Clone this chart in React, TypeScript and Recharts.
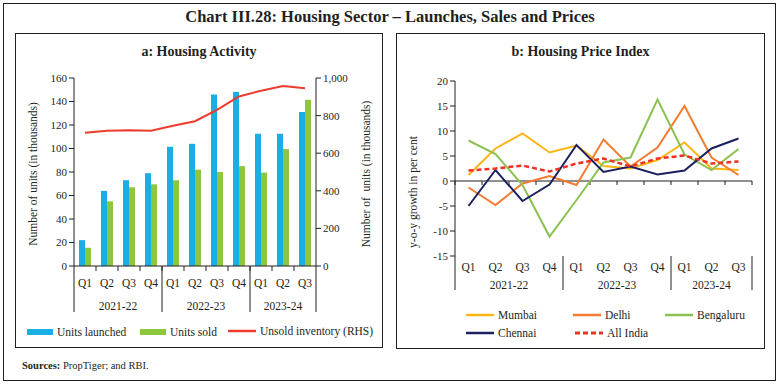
import { ComposedChart, LineChart, Bar, Line, XAxis, YAxis, ReferenceLine } from 'recharts';

const quarters = ['Q1', 'Q2', 'Q3', 'Q4', 'Q1', 'Q2', 'Q3', 'Q4', 'Q1', 'Q2', 'Q3'];
const fiscalYears = ['2021-22', '2021-22', '2021-22', '2021-22', '2022-23', '2022-23', '2022-23', '2022-23', '2023-24', '2023-24', '2023-24'];

// panel a (thousand units)
const unitsLaunched = [22, 64, 73, 79, 101.5, 104, 146, 148, 112.5, 112.5, 131];
const unitsSold = [15.5, 55, 67, 69.5, 73, 82, 80, 85, 79.5, 99.5, 141.5];
const unsoldInventory = [709, 720, 722, 720, 746, 770, 830, 902, 932, 957, 946];

// panel b (y-o-y, per cent)
const mumbai = [1.2, 6.5, 9.5, 5.7, 7.1, 3.0, 2.5, 4.2, 7.7, 2.5, 2.2];
const delhi = [-1.3, -4.8, -0.5, 1.0, -0.8, 8.3, 2.9, 6.7, 15.0, 4.7, 1.2];
const bengaluru = [8.1, 5.4, -0.8, -11.1, -3.8, 3.7, 4.7, 16.3, 5.3, 2.2, 6.4];
const chennai = [-5.0, 2.2, -4.0, -0.7, 7.2, 1.8, 2.9, 1.3, 2.1, 6.5, 8.5];
const allIndia = [2.1, 2.5, 3.1, 1.9, 3.5, 4.5, 2.9, 4.5, 5.1, 3.5, 3.9];

const leftTicks = [0, 20, 40, 60, 80, 100, 120, 140, 160];
const rightTicks = [0, 200, 400, 600, 800, 1000];
const priceTicks = [-15, -10, -5, 0, 5, 10, 15, 20];

const activityData = quarters.map((q, i) => ({
  key: fiscalYears[i] + ' ' + q,
  launched: unitsLaunched[i],
  sold: unitsSold[i],
  unsold: unsoldInventory[i],
}));

const priceData = quarters.map((q, i) => ({
  key: fiscalYears[i] + ' ' + q,
  mumbai: mumbai[i],
  delhi: delhi[i],
  bengaluru: bengaluru[i],
  chennai: chennai[i],
  allIndia: allIndia[i],
}));

const FONT = '"Liberation Serif", "DejaVu Serif", serif';
const INK = '#231f20';
const N = quarters.length;

const LEFT_PLOT_W = 242;
const RIGHT_PLOT_W = 297;

function makeQuarterTick(band: number, smallTicks: boolean, labelDy: number) {
  return (props: any) => {
    const { x, y, index } = props;
    return (
      <g>
        {smallTicks && index > 0 && (
          <line x1={x - band / 2} x2={x - band / 2} y1={y} y2={y + 5} stroke={INK} />
        )}
        <text x={x} y={y + labelDy} textAnchor="middle" fontSize={11.5} fontFamily={FONT} fill={INK}>
          {quarters[index]}
        </text>
      </g>
    );
  };
}

function makeYearTick(band: number, up: number, down: number, labelDy: number) {
  return (props: any) => {
    const { x, y, index } = props;
    const half = band / 2;
    const first = index === 0 || fiscalYears[index] !== fiscalYears[index - 1];
    const count = fiscalYears.filter((f) => f === fiscalYears[index]).length;
    return (
      <g>
        {first && (
          <>
            <line x1={x - half} x2={x - half} y1={y - up} y2={y + down} stroke={INK} />
            <text x={x - half + (count * band) / 2} y={y + labelDy} textAnchor="middle" fontSize={11.5} fontFamily={FONT} fill={INK}>
              {fiscalYears[index]}
            </text>
          </>
        )}
        {index === N - 1 && <line x1={x + half} x2={x + half} y1={y - up} y2={y + down} stroke={INK} />}
      </g>
    );
  };
}

const ZeroLine = (props: any) => {
  const { x1, x2, y1 } = props;
  const step = (x2 - x1) / N;
  return (
    <g>
      <line x1={x1} x2={x2} y1={y1} y2={y1} stroke={INK} strokeWidth={1} />
      {Array.from({ length: N + 1 }, (_, k) => (
        <line key={k} x1={x1 + k * step} x2={x1 + k * step} y1={y1} y2={y1 + 4} stroke={INK} />
      ))}
    </g>
  );
};

const tickStyle = { fontSize: 11, fontFamily: FONT, fill: INK };

function VLabel({ text, cx, cy }: { text: string; cx: number; cy: number }) {
  return (
    <div
      style={{
        position: 'absolute',
        left: cx,
        top: cy,
        transform: 'translate(-50%, -50%) rotate(-90deg)',
        whiteSpace: 'pre',
        fontSize: 11.5,
        fontFamily: FONT,
        color: INK,
      }}
    >
      {text}
    </div>
  );
}

function LegendItem({ x, y, label, swatch }: { x: number; y: number; label: string; swatch: any }) {
  return (
    <div style={{ position: 'absolute', left: x, top: y - 8, height: 16, display: 'flex', alignItems: 'center', whiteSpace: 'nowrap' }}>
      {swatch}
      <span style={{ fontSize: 11.5, fontFamily: FONT, color: INK, marginLeft: 4 }}>{label}</span>
    </div>
  );
}

const rectSwatch = (color: string) => <div style={{ width: 26, height: 6, background: color }} />;
const lineSwatch = (color: string, dashed = false) => (
  <svg width={28} height={6}>
    <line x1={0} x2={28} y1={3} y2={3} stroke={color} strokeWidth={dashed ? 3 : 2.5} strokeDasharray={dashed ? '5 3' : undefined} />
  </svg>
);

export default function App() {
  return (
    <div style={{ position: 'absolute', left: 0, top: 0, width: 780, height: 384, background: '#fff', fontFamily: FONT, color: INK }}>
      <div style={{ position: 'absolute', left: 3, top: 3, width: 771, height: 376, border: `1px solid ${INK}` }} />
      <div style={{ position: 'absolute', left: 0, top: 7, width: 780, textAlign: 'center', fontSize: 16.5, fontWeight: 'bold' }}>
        Chart III.28: Housing Sector – Launches, Sales and Prices
      </div>

      {/* panel a */}
      <div style={{ position: 'absolute', left: 15, top: 33, width: 366, height: 313, border: `1px solid ${INK}` }} />
      <div style={{ position: 'absolute', left: 15, top: 44, width: 368, textAlign: 'center', fontSize: 14, fontWeight: 'bold' }}>
        a: Housing Activity
      </div>
      <div style={{ position: 'absolute', left: 15, top: 33 }}>
        <ComposedChart width={368} height={314} data={activityData} margin={{ top: 45, right: 27, left: 19, bottom: 35 }} barGap={0}>
          <XAxis dataKey="key" height={28} interval={0} tickSize={0} tickMargin={0} tickLine={false} axisLine={{ stroke: INK }} tick={makeQuarterTick(LEFT_PLOT_W / N, true, 21)} />
          <XAxis xAxisId="yr" dataKey="key" height={18} interval={0} tickSize={0} tickMargin={0} tickLine={false} axisLine={false} tick={makeYearTick(LEFT_PLOT_W / N, 28, 18, 16)} />
          <YAxis yAxisId="l" width={40} domain={[0, 160]} ticks={leftTicks} tickSize={5} tickLine={{ stroke: INK }} axisLine={{ stroke: INK }} tick={tickStyle} interval={0} />
          <YAxis yAxisId="r" orientation="right" width={40} domain={[0, 1000]} ticks={rightTicks} tickSize={5} tickLine={{ stroke: INK }} axisLine={{ stroke: INK }} tick={tickStyle} interval={0} tickFormatter={(v: number) => v.toLocaleString('en-US')} />
          <Bar yAxisId="l" dataKey="launched" fill="#1aaee5" barSize={6} isAnimationActive={false} />
          <Bar yAxisId="l" dataKey="sold" fill="#8dc63f" barSize={6} isAnimationActive={false} />
          <Line yAxisId="r" dataKey="unsold" stroke="#ee3b2b" strokeWidth={2} dot={false} type="linear" isAnimationActive={false} />
        </ComposedChart>
      </div>
      <VLabel text="Number of units (in thousands)" cx={33} cy={174} />
      <VLabel text="Number of  units (in thousands)" cx={366} cy={174} />
      <LegendItem x={27} y={332} label="Units launched" swatch={rectSwatch('#1aaee5')} />
      <LegendItem x={140} y={332} label="Units sold" swatch={rectSwatch('#8dc63f')} />
      <LegendItem x={228} y={331} label="Unsold inventory (RHS)" swatch={lineSwatch('#ee3b2b')} />

      {/* panel b */}
      <div style={{ position: 'absolute', left: 396, top: 33, width: 367, height: 314, border: `1px solid ${INK}` }} />
      <div style={{ position: 'absolute', left: 396, top: 44, width: 369, textAlign: 'center', fontSize: 14, fontWeight: 'bold' }}>
        b: Housing Price Index
      </div>
      <div style={{ position: 'absolute', left: 396, top: 33 }}>
        <LineChart width={369} height={316} data={priceData} margin={{ top: 48, right: 13, left: 19, bottom: 59 }}>
          <XAxis dataKey="key" scale="band" height={20} interval={0} tickSize={0} tickMargin={0} tickLine={false} axisLine={false} tick={makeQuarterTick(RIGHT_PLOT_W / N, false, 15)} />
          <XAxis xAxisId="yr" dataKey="key" scale="band" height={14} interval={0} tickSize={0} tickMargin={0} tickLine={false} axisLine={false} tick={makeYearTick(RIGHT_PLOT_W / N, 20, 14, 13)} />
          <YAxis width={40} domain={[-15, 20]} ticks={priceTicks} tickSize={5} tickLine={{ stroke: INK }} axisLine={{ stroke: INK }} tick={tickStyle} interval={0} />
          <ReferenceLine y={0} shape={ZeroLine} />
          <Line dataKey="mumbai" stroke="#fdb515" strokeWidth={2} dot={false} type="linear" isAnimationActive={false} />
          <Line dataKey="delhi" stroke="#f47c30" strokeWidth={2} dot={false} type="linear" isAnimationActive={false} />
          <Line dataKey="bengaluru" stroke="#8cc152" strokeWidth={2} dot={false} type="linear" isAnimationActive={false} />
          <Line dataKey="chennai" stroke="#1d2060" strokeWidth={2} dot={false} type="linear" isAnimationActive={false} />
          <Line dataKey="allIndia" stroke="#ee3124" strokeWidth={2.5} strokeDasharray="5 3" dot={false} type="linear" isAnimationActive={false} />
        </LineChart>
      </div>
      <VLabel text="y-o-y growth in per cent" cx={413} cy={192} />
      <LegendItem x={466} y={315} label="Mumbai" swatch={lineSwatch('#fdb515')} />
      <LegendItem x={573} y={315} label="Delhi" swatch={lineSwatch('#f47c30')} />
      <LegendItem x={665} y={315} label="Bengaluru" swatch={lineSwatch('#8cc152')} />
      <LegendItem x={466} y={333} label="Chennai" swatch={lineSwatch('#1d2060')} />
      <LegendItem x={575} y={333} label="All India" swatch={lineSwatch('#ee3124', true)} />

      <div style={{ position: 'absolute', left: 22, top: 360, fontSize: 10.5, whiteSpace: 'nowrap' }}>
        <b>Sources:</b> PropTiger; and RBI.
      </div>
    </div>
  );
}
